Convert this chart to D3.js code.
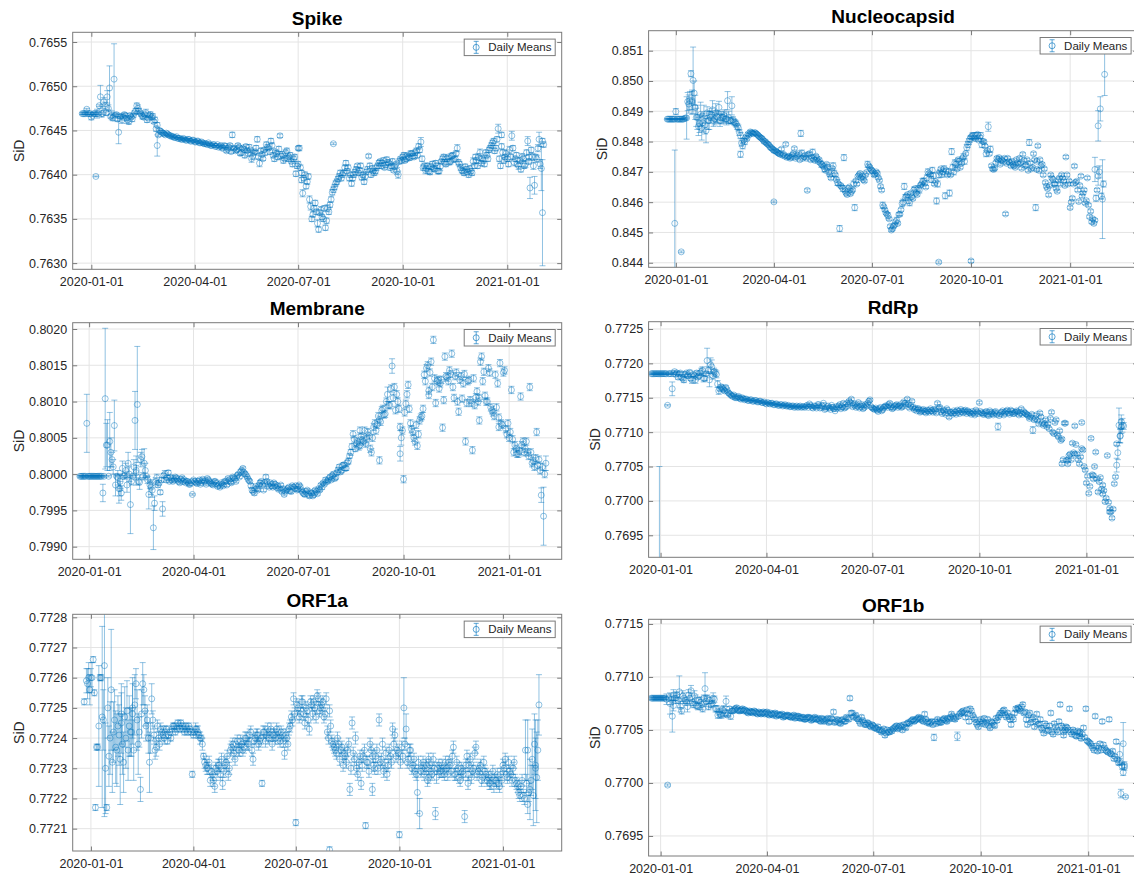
<!DOCTYPE html>
<html><head><meta charset="utf-8">
<script src="https://cdn.jsdelivr.net/npm/d3@7"></script>
<style>
body{margin:0;background:#fff;}
svg text{font-family:"Liberation Sans",Arial,Helvetica,sans-serif;}
</style></head>
<body><svg id="chart" width="1134" height="877"></svg>
<script>
// ---------------- DATA ----------------
const xTickDates = ["2020-01-01","2020-04-01","2020-07-01","2020-10-01","2021-01-01"];
// daily means: "Even" arrays start 2019-12-24, "Odd" arrays start 2019-12-25, each stepping 2 days
const firstEvenDate = "2019-12-24";
const firstOddDate = "2019-12-25";
const stepDays = 2;

const spikeMeansEven = [
0.76469,0.76469,0.76474,0.76469,0.76465,0.76469,0.76469,0.76469,0.76488,0.76469,
0.76478,0.76488,0.76498,0.76467,0.76508,0.76468,0.76448,0.76466,0.76465,0.76467,
0.76462,0.76467,0.76463,0.76470,0.76478,0.76472,0.76468,0.76465,0.76470,0.76464,
0.76468,0.76466,0.76462,0.76456,0.76450,0.76448,0.76446,0.76447,0.76445,0.76444,
0.76443,0.76442,0.76441,0.76441,0.76440,0.76440,0.76439,0.76440,0.76438,0.76439,
0.76437,0.76438,0.76436,0.76436,0.76435,0.76434,0.76434,0.76433,0.76434,0.76432,
0.76431,0.76433,0.76430,0.76432,0.76429,0.76433,0.76445,0.76430,0.76428,0.76431,
0.76425,0.76429,0.76432,0.76424,0.76428,0.76421,0.76426,0.76440,0.76413,0.76423,
0.76428,0.76434,0.76430,0.76438,0.76422,0.76426,0.76420,0.76444,0.76423,0.76418,
0.76427,0.76420,0.76415,0.76418,0.76401,0.76412,0.76408,0.76379,0.76400,0.76392,
0.76372,0.76350,0.76362,0.76358,0.76338,0.76360,0.76350,0.76340,0.76362,0.76366,
0.76380,0.76386,0.76392,0.76398,0.76396,0.76402,0.76413,0.76408,0.76400,0.76396,
0.76403,0.76410,0.76405,0.76397,0.76392,0.76403,0.76421,0.76400,0.76404,0.76404,
0.76410,0.76415,0.76413,0.76408,0.76417,0.76413,0.76410,0.76405,0.76412,0.76400,
0.76418,0.76420,0.76416,0.76422,0.76419,0.76424,0.76420,0.76427,0.76432,0.76437,
0.76408,0.76405,0.76410,0.76403,0.76412,0.76406,0.76410,0.76404,0.76415,0.76420,
0.76412,0.76420,0.76415,0.76422,0.76418,0.76430,0.76412,0.76405,0.76402,0.76406,
0.76400,0.76404,0.76415,0.76420,0.76410,0.76425,0.76418,0.76412,0.76422,0.76428,
0.76433,0.76438,0.76430,0.76452,0.76410,0.76425,0.76420,0.76418,0.76428,0.76444,
0.76414,0.76422,0.76410,0.76406,0.76418,0.76412,0.76438,0.76385,0.76420,0.76388,
0.76418,0.76440,0.76407,0.76434];
const spikeErrsEven = [
1e-5,1e-5,1e-5,1e-5,3e-5,1e-5,1e-5,1e-5,1.3e-4,1e-5,
4e-5,7e-5,2.5e-4,5e-5,4e-4,2e-5,1.3e-4,2e-5,2e-5,2e-5,
4e-5,2e-5,3e-5,2e-5,3e-5,3e-5,2e-5,2e-5,4e-5,2e-5,
3e-5,3e-5,3e-5,3e-5,2e-5,2e-5,2e-5,1e-5,1e-5,1e-5,
1e-5,1e-5,1e-5,1e-5,1e-5,1e-5,1e-5,1e-5,1e-5,1e-5,
1e-5,1e-5,1e-5,1e-5,1e-5,1e-5,1e-5,1e-5,1e-5,1e-5,
1e-5,1e-5,1e-5,1e-5,2e-5,2e-5,3e-5,2e-5,2e-5,2e-5,
3e-5,2e-5,2e-5,3e-5,2e-5,4e-5,2e-5,3e-5,4e-5,2e-5,
2e-5,3e-5,2e-5,3e-5,3e-5,2e-5,3e-5,2e-5,3e-5,2e-5,
3e-5,2e-5,2e-5,3e-5,3e-5,3e-5,3e-5,4e-5,3e-5,3e-5,
4e-5,3e-5,3e-5,3e-5,3e-5,4e-5,3e-5,3e-5,4e-5,3e-5,
3e-5,3e-5,3e-5,3e-5,3e-5,3e-5,3e-5,3e-5,3e-5,3e-5,
3e-5,2e-5,3e-5,3e-5,3e-5,3e-5,2e-5,3e-5,2e-5,3e-5,
3e-5,2e-5,3e-5,2e-5,3e-5,2e-5,3e-5,2e-5,2e-5,4e-5,
2e-5,3e-5,2e-5,2e-5,3e-5,2e-5,2e-5,3e-5,3e-5,5e-5,
3e-5,4e-5,3e-5,3e-5,3e-5,2e-5,3e-5,3e-5,2e-5,3e-5,
3e-5,2e-5,3e-5,3e-5,3e-5,4e-5,3e-5,3e-5,3e-5,3e-5,
3e-5,3e-5,4e-5,3e-5,3e-5,4e-5,3e-5,3e-5,3e-5,3e-5,
3e-5,3e-5,3e-5,5e-5,3e-5,3e-5,3e-5,3e-5,4e-5,5e-5,
4e-5,3e-5,4e-5,3e-5,3e-5,4e-5,5e-5,1.2e-4,4e-5,1e-4,
4e-5,8e-5,2.5e-4,3e-5];
const spikeMeansOdd = [
0.76469,0.76469,0.76469,0.76469,0.76467,0.76469,0.76469,0.76478,0.76469,0.76482,
0.76470,0.76475,0.76466,0.76464,0.76467,0.76463,0.76466,0.76462,0.76468,0.76464,
0.76460,0.76465,0.76467,0.76472,0.76475,0.76470,0.76466,0.76468,0.76462,0.76467,
0.76465,0.76460,0.76452,0.76445,0.76449,0.76447,0.76445,0.76446,0.76444,0.76443,
0.76442,0.76443,0.76441,0.76440,0.76441,0.76439,0.76440,0.76438,0.76439,0.76437,
0.76438,0.76436,0.76437,0.76435,0.76435,0.76436,0.76433,0.76434,0.76432,0.76434,
0.76432,0.76430,0.76433,0.76427,0.76431,0.76426,0.76430,0.76427,0.76433,0.76424,
0.76430,0.76422,0.76427,0.76431,0.76418,0.76425,0.76430,0.76420,0.76427,0.76418,
0.76425,0.76431,0.76426,0.76433,0.76418,0.76424,0.76429,0.76421,0.76416,0.76425,
0.76418,0.76422,0.76412,0.76420,0.76410,0.76430,0.76402,0.76396,0.76387,0.76398,
0.76364,0.76355,0.76368,0.76345,0.76357,0.76352,0.76362,0.76348,0.76358,0.76372,
0.76383,0.76390,0.76395,0.76402,0.76400,0.76408,0.76404,0.76396,0.76390,0.76400,
0.76406,0.76402,0.76410,0.76400,0.76398,0.76406,0.76410,0.76407,0.76402,0.76408,
0.76413,0.76410,0.76416,0.76411,0.76414,0.76408,0.76415,0.76409,0.76404,0.76415,
0.76416,0.76422,0.76418,0.76420,0.76424,0.76421,0.76425,0.76422,0.76428,0.76418,
0.76410,0.76407,0.76404,0.76409,0.76407,0.76413,0.76404,0.76409,0.76418,0.76414,
0.76418,0.76414,0.76421,0.76417,0.76424,0.76414,0.76408,0.76404,0.76409,0.76403,
0.76407,0.76402,0.76410,0.76416,0.76420,0.76413,0.76416,0.76425,0.76418,0.76430,
0.76436,0.76427,0.76440,0.76418,0.76432,0.76416,0.76424,0.76412,0.76420,0.76430,
0.76418,0.76412,0.76416,0.76420,0.76410,0.76425,0.76415,0.76428,0.76410,0.76420,
0.76430,0.76412,0.76438];
const spikeErrsOdd = [
1e-5,1e-5,1e-5,1e-5,1e-5,1e-5,5e-5,1e-5,4e-5,5e-5,
3e-5,4e-5,2e-5,3e-5,2e-5,3e-5,2e-5,4e-5,2e-5,3e-5,
3e-5,2e-5,2e-5,3e-5,4e-5,2e-5,3e-5,2e-5,3e-5,2e-5,
2e-5,2e-5,3e-5,2e-5,1e-5,1e-5,1e-5,1e-5,1e-5,1e-5,
1e-5,1e-5,1e-5,1e-5,1e-5,1e-5,1e-5,1e-5,1e-5,1e-5,
1e-5,1e-5,1e-5,1e-5,1e-5,1e-5,1e-5,1e-5,1e-5,1e-5,
1e-5,1e-5,2e-5,2e-5,2e-5,2e-5,2e-5,2e-5,2e-5,2e-5,
2e-5,3e-5,2e-5,3e-5,4e-5,2e-5,3e-5,2e-5,3e-5,2e-5,
3e-5,3e-5,3e-5,3e-5,3e-5,3e-5,3e-5,3e-5,3e-5,3e-5,
3e-5,3e-5,3e-5,3e-5,3e-5,3e-5,3e-5,3e-5,3e-5,3e-5,
4e-5,3e-5,3e-5,4e-5,3e-5,3e-5,3e-5,3e-5,3e-5,3e-5,
3e-5,3e-5,3e-5,3e-5,3e-5,3e-5,3e-5,3e-5,3e-5,3e-5,
3e-5,3e-5,3e-5,3e-5,4e-5,3e-5,3e-5,3e-5,3e-5,3e-5,
3e-5,3e-5,3e-5,3e-5,3e-5,3e-5,3e-5,3e-5,4e-5,3e-5,
3e-5,3e-5,3e-5,3e-5,3e-5,3e-5,3e-5,3e-5,3e-5,3e-5,
3e-5,3e-5,3e-5,3e-5,3e-5,3e-5,3e-5,4e-5,3e-5,3e-5,
3e-5,3e-5,3e-5,3e-5,3e-5,3e-5,3e-5,3e-5,3e-5,3e-5,
3e-5,3e-5,3e-5,3e-5,4e-5,3e-5,3e-5,3e-5,3e-5,3e-5,
3e-5,3e-5,3e-5,3e-5,3e-5,3e-5,4e-5,3e-5,3e-5,3e-5,
3e-5,3e-5,3e-5,4e-5,3e-5,3e-5,3e-5,3e-5,4e-5,3e-5,
4e-5,5e-5,3e-5];
const spikeExtraDates = ["2020-01-05","2020-02-28","2020-07-01","2020-07-04","2020-08-01","2020-12-27","2021-01-20","2021-02-01"];
const spikeExtraMeans = [0.76398,0.76433,0.76430,0.76394,0.76435,0.76445,0.76420,0.76357];
const spikeExtraErrs  = [5e-6,1.2e-4,2e-5,3e-5,1e-5,3e-5,3e-5,6e-4];
const spikeYTicks = [0.7630,0.7635,0.7640,0.7645,0.7650,0.7655];

const nucleoMeansEven = [
0.84874,0.84874,0.84874,0.84874,0.84899,0.84874,0.84874,0.84874,0.84876,0.84878,
0.84924,0.85024,0.85002,0.84913,0.84880,0.84860,0.84845,0.84890,0.84836,0.84870,
0.84880,0.84905,0.84875,0.84882,0.84913,0.84878,0.84880,0.84874,0.84935,0.84870,
0.84918,0.84865,0.84858,0.84845,0.84820,0.84786,0.84800,0.84810,0.84822,0.84830,
0.84826,0.84828,0.84822,0.84815,0.84810,0.84800,0.84795,0.84790,0.84780,0.84775,
0.84770,0.84765,0.84760,0.84775,0.84758,0.84791,0.84750,0.84745,0.84755,0.84777,
0.84750,0.84760,0.84827,0.84745,0.84755,0.84639,0.84760,0.84748,0.84742,0.84752,
0.84735,0.84730,0.84722,0.84710,0.84725,0.84700,0.84680,0.84720,0.84690,0.84665,
0.84513,0.84650,0.84747,0.84630,0.84645,0.84628,0.84640,0.84582,0.84660,0.84690,
0.84680,0.84675,0.84690,0.84725,0.84715,0.84705,0.84690,0.84700,0.84680,0.84652,
0.84590,0.84575,0.84560,0.84545,0.84508,0.84520,0.84536,0.84530,0.84560,0.84595,
0.84652,0.84620,0.84605,0.84630,0.84612,0.84645,0.84625,0.84640,0.84660,0.84670,
0.84650,0.84700,0.84690,0.84705,0.84660,0.84604,0.84690,0.84710,0.84700,0.84621,
0.84690,0.84630,0.84767,0.84700,0.84725,0.84740,0.84715,0.84745,0.84735,0.84780,
0.84800,0.84815,0.84820,0.84810,0.84824,0.84815,0.84790,0.84800,0.84760,0.84849,
0.84775,0.84710,0.84712,0.84745,0.84747,0.84740,0.84733,0.84561,0.84745,0.84730,
0.84735,0.84720,0.84740,0.84725,0.84730,0.84758,0.84720,0.84740,0.84797,0.84710,
0.84760,0.84582,0.84786,0.84740,0.84725,0.84710,0.84652,0.84624,0.84690,0.84675,
0.84660,0.84636,0.84680,0.84690,0.84670,0.84749,0.84660,0.84582,0.84613,0.84719,
0.84669,0.84602,0.84686,0.84630,0.84597,0.84680,0.84552,0.84535,0.84530,0.84613,
0.84686,0.84908,0.84610,0.85022];
const nucleoErrsEven = [
2e-5,2e-5,2e-5,2e-5,1e-4,2e-5,2e-5,2e-5,3e-5,7e-4,
3e-4,1e-4,1.1e-3,4e-4,4e-4,3e-4,4e-4,3e-4,4e-4,3e-4,
2e-4,3e-4,2e-4,2e-4,2e-4,2e-4,2e-4,1e-4,3e-4,1e-4,
3e-4,1e-4,1e-4,1e-4,1e-4,1e-4,1e-4,5e-5,5e-5,5e-5,
5e-5,5e-5,5e-5,5e-5,5e-5,5e-5,5e-5,5e-5,5e-5,5e-5,
5e-5,5e-5,5e-5,5e-5,5e-5,5e-5,5e-5,5e-5,5e-5,5e-5,
5e-5,5e-5,1e-4,5e-5,5e-5,5e-5,5e-5,5e-5,5e-5,5e-5,
5e-5,5e-5,5e-5,1e-4,5e-5,1e-4,5e-5,1e-4,5e-5,1e-4,
1e-4,5e-5,1e-4,5e-5,5e-5,5e-5,5e-5,1e-4,5e-5,5e-5,
5e-5,5e-5,5e-5,1e-4,5e-5,5e-5,5e-5,5e-5,5e-5,5e-5,
1e-4,5e-5,5e-5,5e-5,5e-5,5e-5,5e-5,5e-5,5e-5,1e-4,
1e-4,5e-5,1e-4,5e-5,5e-5,5e-5,5e-5,1e-4,5e-5,1e-4,
5e-5,1e-4,5e-5,1e-4,5e-5,1e-4,1e-4,5e-5,1e-4,1e-4,
5e-5,1e-4,1e-4,1e-4,1e-4,5e-5,5e-5,5e-5,1e-4,1e-4,
1e-4,5e-5,1e-4,5e-5,5e-5,5e-5,1e-4,5e-5,1e-4,1.5e-4,
1e-4,5e-5,5e-5,5e-5,5e-5,5e-5,5e-5,5e-5,5e-5,5e-5,
5e-5,5e-5,5e-5,5e-5,5e-5,5e-5,5e-5,5e-5,1e-4,5e-5,
5e-5,1e-4,5e-5,5e-5,5e-5,5e-5,5e-5,5e-5,5e-5,5e-5,
5e-5,5e-5,5e-5,5e-5,5e-5,5e-5,5e-5,5e-5,5e-5,5e-5,
5e-5,5e-5,5e-5,5e-5,5e-5,5e-5,5e-5,5e-5,5e-5,1e-4,
3e-4,4e-4,1.3e-3,7e-4];
const nucleoMeansOdd = [
0.84874,0.84874,0.84874,0.84874,0.84874,0.84874,0.84874,0.84874,0.84878,0.84932,
0.84935,0.84930,0.84960,0.84880,0.84850,0.84890,0.84862,0.84855,0.84895,0.84870,
0.84890,0.84870,0.84895,0.84880,0.84870,0.84880,0.84885,0.84875,0.84880,0.84868,
0.84872,0.84862,0.84850,0.84830,0.84795,0.84805,0.84815,0.84825,0.84832,0.84828,
0.84830,0.84825,0.84818,0.84812,0.84805,0.84800,0.84792,0.84785,0.84778,0.84770,
0.84768,0.84762,0.84758,0.84755,0.84752,0.84748,0.84752,0.84748,0.84760,0.84745,
0.84755,0.84740,0.84762,0.84750,0.84745,0.84758,0.84740,0.84765,0.84738,0.84745,
0.84740,0.84725,0.84718,0.84705,0.84715,0.84690,0.84712,0.84695,0.84675,0.84660,
0.84655,0.84645,0.84638,0.84625,0.84650,0.84635,0.84660,0.84670,0.84685,0.84695,
0.84685,0.84670,0.84698,0.84720,0.84708,0.84700,0.84692,0.84695,0.84672,0.84640,
0.84585,0.84565,0.84555,0.84520,0.84512,0.84525,0.84540,0.84560,0.84575,0.84600,
0.84615,0.84625,0.84598,0.84618,0.84640,0.84630,0.84645,0.84655,0.84668,0.84662,
0.84680,0.84695,0.84675,0.84688,0.84668,0.84660,0.84700,0.84692,0.84710,0.84705,
0.84700,0.84690,0.84715,0.84730,0.84710,0.84735,0.84728,0.84750,0.84760,0.84790,
0.84808,0.84818,0.84812,0.84820,0.84805,0.84820,0.84800,0.84785,0.84770,0.84760,
0.84720,0.84708,0.84730,0.84740,0.84725,0.84738,0.84745,0.84728,0.84735,0.84720,
0.84725,0.84715,0.84730,0.84745,0.84712,0.84738,0.84722,0.84705,0.84730,0.84715,
0.84740,0.84735,0.84705,0.84720,0.84690,0.84665,0.84645,0.84655,0.84680,0.84660,
0.84645,0.84672,0.84660,0.84680,0.84655,0.84690,0.84670,0.84600,0.84660,0.84665,
0.84640,0.84655,0.84620,0.84640,0.84605,0.84590,0.84570,0.84545,0.84540,0.84640,
0.84700,0.84620,0.84660];
const nucleoErrsOdd = [
2e-5,2e-5,2e-5,2e-5,2e-5,2e-5,2e-5,2e-5,3e-5,3e-4,
3e-4,4e-4,4e-4,3e-4,3e-4,4e-4,3e-4,3e-4,2e-4,3e-4,
2e-4,2e-4,3e-4,2e-4,2e-4,1e-4,2e-4,2e-4,2e-4,1e-4,
1e-4,1e-4,1e-4,1e-4,1e-4,5e-5,5e-5,5e-5,5e-5,5e-5,
5e-5,5e-5,5e-5,5e-5,5e-5,5e-5,5e-5,5e-5,5e-5,5e-5,
5e-5,5e-5,5e-5,5e-5,5e-5,5e-5,5e-5,5e-5,5e-5,5e-5,
5e-5,5e-5,1e-4,5e-5,5e-5,5e-5,5e-5,1e-4,5e-5,5e-5,
5e-5,1e-4,5e-5,5e-5,1e-4,5e-5,5e-5,1e-4,5e-5,5e-5,
5e-5,1e-4,5e-5,5e-5,5e-5,5e-5,1e-4,5e-5,5e-5,5e-5,
5e-5,5e-5,5e-5,5e-5,5e-5,5e-5,5e-5,5e-5,5e-5,5e-5,
5e-5,5e-5,1e-4,5e-5,5e-5,5e-5,1e-4,5e-5,5e-5,1e-4,
1e-4,5e-5,1e-4,5e-5,1e-4,5e-5,1e-4,5e-5,1e-4,5e-5,
1e-4,5e-5,1e-4,1e-4,5e-5,1e-4,5e-5,1e-4,1e-4,5e-5,
1e-4,5e-5,1e-4,1e-4,5e-5,1e-4,5e-5,1e-4,5e-5,1e-4,
1e-4,1e-4,5e-5,1e-4,5e-5,1e-4,5e-5,5e-5,5e-5,5e-5,
5e-5,5e-5,5e-5,5e-5,5e-5,5e-5,5e-5,5e-5,5e-5,5e-5,
5e-5,5e-5,5e-5,5e-5,5e-5,5e-5,5e-5,5e-5,5e-5,5e-5,
5e-5,5e-5,5e-5,5e-5,5e-5,5e-5,5e-5,5e-5,5e-5,5e-5,
5e-5,5e-5,5e-5,5e-5,5e-5,5e-5,5e-5,5e-5,5e-5,5e-5,
5e-5,5e-5,5e-5,5e-5,5e-5,5e-5,5e-5,5e-5,5e-5,5e-5,
2e-4,1e-4,1e-4];
const nucleoExtraDates = ["2019-12-31","2020-01-06","2020-01-16","2020-03-01","2020-04-01","2020-09-01","2020-10-01","2020-12-01","2021-01-24","2021-01-27"];
const nucleoExtraMeans = [0.84530,0.84436,0.84935,0.84758,0.84601,0.84402,0.84406,0.84708,0.84708,0.84852];
const nucleoExtraErrs  = [2.42e-3,3e-5,3e-4,1e-4,3e-5,4e-5,5e-5,5e-5,4e-4,5e-4];
const nucleoYTicks = [0.844,0.845,0.846,0.847,0.848,0.849,0.850,0.851];

const membraneMeansEven = [
0.79997,0.79997,0.79997,0.80070,0.79997,0.79997,0.79997,0.79997,0.79997,0.79997,
0.79974,0.80104,0.80040,0.80045,0.80020,0.80067,0.79997,0.79980,0.79974,0.79997,
0.80005,0.80015,0.79958,0.79997,0.80074,0.80096,0.79989,0.80024,0.80015,0.79997,
0.79972,0.79982,0.79926,0.79990,0.79985,0.79975,0.79952,0.80000,0.79995,0.79990,
0.79993,0.79992,0.79995,0.79990,0.79993,0.79990,0.79988,0.79990,0.79986,0.79972,
0.79990,0.79987,0.79992,0.79989,0.79990,0.79986,0.79992,0.79988,0.79985,0.79990,
0.79983,0.79982,0.79986,0.79990,0.79985,0.79992,0.79988,0.79995,0.79990,0.80000,
0.80003,0.80008,0.80000,0.79995,0.79990,0.79978,0.79974,0.79980,0.79985,0.79990,
0.79978,0.79996,0.79985,0.79988,0.79982,0.79986,0.79984,0.79980,0.79976,0.79972,
0.79978,0.79982,0.79976,0.79982,0.79984,0.79979,0.79982,0.79975,0.79972,0.79978,
0.79970,0.79974,0.79972,0.79976,0.79980,0.79985,0.79988,0.79992,0.79990,0.79996,
0.79998,0.79994,0.80002,0.80010,0.80005,0.80013,0.80008,0.80018,0.80030,0.80055,
0.80035,0.80045,0.80040,0.80047,0.80060,0.80048,0.80053,0.80030,0.80065,0.80060,
0.80080,0.80072,0.80090,0.80083,0.80110,0.80095,0.80149,0.80120,0.80110,0.80090,
0.80050,0.79993,0.80097,0.80123,0.80070,0.80058,0.80045,0.80039,0.80074,0.80080,
0.80137,0.80146,0.80109,0.80155,0.80185,0.80098,0.80130,0.80125,0.80064,0.80162,
0.80133,0.80143,0.80166,0.80105,0.80140,0.80086,0.80135,0.80125,0.80045,0.80128,
0.80102,0.80033,0.80095,0.80114,0.80074,0.80162,0.80141,0.80100,0.80146,0.80092,
0.80085,0.80137,0.80125,0.80153,0.80068,0.80143,0.80055,0.80050,0.80116,0.80030,
0.80035,0.80028,0.80107,0.80045,0.80035,0.80030,0.80120,0.80015,0.80010,0.80058,
0.80020,0.79971,0.79942,0.80015];
const membraneErrsEven = [
1e-5,1e-5,1e-5,4e-4,1e-5,1e-5,1e-5,1e-5,1e-5,1e-5,
1.2e-4,9.7e-4,3.5e-4,4e-4,1e-4,3.5e-4,1e-5,2e-4,1e-4,1e-5,
1e-4,1.5e-4,4e-4,1e-5,4e-4,8e-4,1e-4,1e-4,2e-4,1e-5,
2e-4,1e-4,3e-4,5e-5,3e-5,3e-5,1e-4,5e-5,3e-5,2e-5,
2e-5,2e-5,2e-5,2e-5,2e-5,2e-5,2e-5,2e-5,2e-5,1e-5,
2e-5,2e-5,2e-5,2e-5,2e-5,2e-5,2e-5,2e-5,2e-5,2e-5,
2e-5,2e-5,2e-5,2e-5,2e-5,2e-5,2e-5,2e-5,2e-5,2e-5,
3e-5,2e-5,3e-5,2e-5,2e-5,3e-5,3e-5,3e-5,2e-5,2e-5,
2e-5,3e-5,2e-5,2e-5,2e-5,2e-5,2e-5,2e-5,2e-5,2e-5,
2e-5,2e-5,3e-5,2e-5,2e-5,2e-5,3e-5,2e-5,3e-5,2e-5,
3e-5,3e-5,2e-5,2e-5,2e-5,2e-5,2e-5,3e-5,2e-5,3e-5,
3e-5,3e-5,3e-5,3e-5,3e-5,3e-5,3e-5,4e-5,4e-5,5e-5,
4e-5,5e-5,5e-5,5e-5,5e-5,5e-5,5e-5,5e-5,5e-5,5e-5,
5e-5,5e-5,5e-5,5e-5,1e-4,5e-5,1e-4,5e-5,5e-5,5e-5,
1e-4,5e-5,5e-5,5e-5,5e-5,5e-5,5e-5,5e-5,5e-5,5e-5,
5e-5,5e-5,5e-5,5e-5,5e-5,5e-5,5e-5,5e-5,5e-5,5e-5,
5e-5,5e-5,5e-5,5e-5,5e-5,5e-5,5e-5,5e-5,5e-5,5e-5,
5e-5,5e-5,5e-5,5e-5,5e-5,5e-5,5e-5,5e-5,5e-5,5e-5,
5e-5,5e-5,5e-5,5e-5,5e-5,5e-5,5e-5,5e-5,5e-5,5e-5,
5e-5,5e-5,5e-5,5e-5,5e-5,5e-5,5e-5,5e-5,5e-5,5e-5,
5e-5,1e-4,4e-4,1e-4];
const membraneMeansOdd = [
0.79997,0.79997,0.79997,0.79997,0.79997,0.79997,0.79997,0.79997,0.79997,0.79997,
0.79997,0.80040,0.79997,0.80030,0.80010,0.79985,0.79995,0.79990,0.80008,0.79998,
0.79985,0.80000,0.79990,0.80010,0.80002,0.79990,0.80020,0.79997,0.80005,0.79992,
0.79985,0.79978,0.79960,0.79995,0.79988,0.79992,0.79998,0.79992,0.80002,0.79996,
0.79990,0.79996,0.79992,0.79988,0.79995,0.79992,0.79990,0.79986,0.79989,0.79992,
0.79988,0.79990,0.79986,0.79993,0.79990,0.79994,0.79989,0.79986,0.79990,0.79987,
0.79985,0.79988,0.79984,0.79990,0.79994,0.79989,0.79996,0.79993,0.79998,0.79996,
0.80005,0.80002,0.79998,0.79992,0.79984,0.79976,0.79983,0.79978,0.79988,0.79985,
0.79988,0.79990,0.79982,0.79984,0.79988,0.79982,0.79979,0.79985,0.79980,0.79976,
0.79980,0.79977,0.79984,0.79980,0.79978,0.79985,0.79978,0.79973,0.79976,0.79972,
0.79975,0.79970,0.79978,0.79973,0.79978,0.79982,0.79986,0.79990,0.79994,0.79992,
0.80000,0.79996,0.80006,0.80003,0.80012,0.80008,0.80016,0.80025,0.80038,0.80048,
0.80042,0.80038,0.80052,0.80045,0.80042,0.80058,0.80035,0.80050,0.80070,0.80068,
0.80075,0.80088,0.80082,0.80100,0.80095,0.80118,0.80105,0.80088,0.80100,0.80065,
0.80060,0.80085,0.80110,0.80090,0.80062,0.80050,0.80068,0.80055,0.80078,0.80090,
0.80128,0.80150,0.80140,0.80120,0.80132,0.80128,0.80118,0.80130,0.80102,0.80135,
0.80128,0.80138,0.80120,0.80135,0.80100,0.80130,0.80104,0.80138,0.80098,0.80130,
0.80098,0.80132,0.80106,0.80100,0.80155,0.80128,0.80108,0.80100,0.80140,0.80088,
0.80080,0.80092,0.80078,0.80070,0.80140,0.80062,0.80070,0.80058,0.80048,0.80040,
0.80028,0.80032,0.80040,0.80030,0.80045,0.80025,0.80030,0.80018,0.80022,0.80012,
0.80005,0.80010,0.80000];
const membraneErrsOdd = [
1e-5,1e-5,1e-5,1e-5,1e-5,1e-5,1e-5,1e-5,1e-5,1e-5,
1e-5,3e-4,1e-5,2e-4,1e-4,1.5e-4,1e-4,1e-4,1e-4,5e-5,
1e-4,1e-4,5e-5,1e-4,1e-4,5e-5,1e-4,5e-5,1e-4,5e-5,
5e-5,1e-4,1e-4,5e-5,3e-5,3e-5,3e-5,3e-5,3e-5,2e-5,
2e-5,2e-5,2e-5,2e-5,2e-5,2e-5,2e-5,2e-5,2e-5,2e-5,
2e-5,2e-5,2e-5,2e-5,2e-5,2e-5,2e-5,2e-5,2e-5,2e-5,
2e-5,2e-5,2e-5,2e-5,2e-5,2e-5,2e-5,2e-5,2e-5,2e-5,
3e-5,2e-5,2e-5,2e-5,3e-5,2e-5,2e-5,2e-5,3e-5,2e-5,
2e-5,2e-5,2e-5,2e-5,2e-5,2e-5,2e-5,2e-5,2e-5,2e-5,
2e-5,2e-5,2e-5,3e-5,2e-5,2e-5,2e-5,2e-5,2e-5,2e-5,
2e-5,2e-5,2e-5,2e-5,2e-5,3e-5,2e-5,2e-5,2e-5,2e-5,
3e-5,3e-5,3e-5,3e-5,3e-5,3e-5,3e-5,3e-5,4e-5,5e-5,
5e-5,5e-5,5e-5,5e-5,5e-5,5e-5,5e-5,5e-5,5e-5,5e-5,
5e-5,5e-5,5e-5,5e-5,5e-5,5e-5,5e-5,5e-5,5e-5,5e-5,
5e-5,5e-5,5e-5,5e-5,5e-5,5e-5,5e-5,5e-5,5e-5,5e-5,
5e-5,5e-5,5e-5,5e-5,5e-5,5e-5,5e-5,5e-5,5e-5,5e-5,
5e-5,5e-5,5e-5,5e-5,5e-5,5e-5,5e-5,5e-5,5e-5,5e-5,
5e-5,5e-5,5e-5,5e-5,5e-5,5e-5,5e-5,5e-5,5e-5,5e-5,
5e-5,5e-5,5e-5,5e-5,5e-5,5e-5,5e-5,5e-5,5e-5,5e-5,
5e-5,5e-5,5e-5,5e-5,5e-5,5e-5,5e-5,5e-5,5e-5,5e-5,
5e-5,5e-5,5e-5];
const membraneExtraDates = ["2020-01-28","2020-02-11","2020-08-24","2020-09-10","2020-09-28","2020-10-23","2020-12-06","2020-12-23"];
const membraneExtraMeans = [0.79980,0.80005,0.80060,0.80019,0.80028,0.80115,0.80105,0.80065];
const membraneExtraErrs  = [1e-4,2e-4,5e-5,5e-5,1e-4,5e-5,5e-5,5e-5];
const membraneYTicks = [0.7990,0.7995,0.8000,0.8005,0.8010,0.8015,0.8020];

const rdrpMeansEven = [
0.77185,0.77185,0.77185,0.77185,0.77185,0.77185,0.77185,0.77139,0.77185,0.77163,
0.77188,0.77186,0.77185,0.77180,0.77176,0.77186,0.77182,0.77178,0.77184,0.77176,
0.77180,0.77186,0.77190,0.77178,0.77204,0.77176,0.77195,0.77188,0.77184,0.77160,
0.77166,0.77162,0.77165,0.77158,0.77155,0.77152,0.77150,0.77151,0.77149,0.77150,
0.77147,0.77148,0.77146,0.77147,0.77145,0.77146,0.77144,0.77145,0.77143,0.77142,
0.77143,0.77141,0.77142,0.77140,0.77141,0.77139,0.77140,0.77139,0.77138,0.77139,
0.77137,0.77138,0.77137,0.77136,0.77138,0.77137,0.77136,0.77139,0.77141,0.77136,
0.77138,0.77135,0.77140,0.77136,0.77142,0.77134,0.77138,0.77133,0.77136,0.77131,
0.77135,0.77140,0.77137,0.77135,0.77142,0.77145,0.77148,0.77140,0.77136,0.77143,
0.77138,0.77134,0.77140,0.77142,0.77147,0.77135,0.77133,0.77132,0.77134,0.77131,
0.77136,0.77138,0.77140,0.77137,0.77135,0.77139,0.77136,0.77140,0.77137,0.77142,
0.77148,0.77135,0.77145,0.77133,0.77131,0.77134,0.77130,0.77133,0.77128,0.77131,
0.77134,0.77129,0.77132,0.77142,0.77136,0.77127,0.77130,0.77134,0.77122,0.77128,
0.77131,0.77126,0.77130,0.77133,0.77128,0.77132,0.77131,0.77128,0.77130,0.77125,
0.77129,0.77143,0.77128,0.77126,0.77130,0.77124,0.77128,0.77125,0.77130,0.77108,
0.77127,0.77131,0.77128,0.77132,0.77126,0.77130,0.77127,0.77131,0.77125,0.77134,
0.77130,0.77127,0.77124,0.77122,0.77103,0.77120,0.77117,0.77128,0.77114,0.77112,
0.77108,0.77105,0.77129,0.77098,0.77118,0.77093,0.77088,0.77060,0.77113,0.77054,
0.77068,0.77084,0.77109,0.77068,0.77054,0.77114,0.77050,0.77026,0.77011,0.77091,
0.77037,0.77071,0.77013,0.77034,0.77023,0.76999,0.77066,0.76989,0.76975,0.77025,
0.77052,0.77110,0.77108,0.77109];
const rdrpErrsEven = [
1e-5,1e-5,1e-5,1e-5,1e-5,1e-5,1e-5,1e-5,1e-5,1e-4,
2e-5,2e-5,2e-5,3e-5,4e-5,2e-5,3e-5,3e-5,3e-5,5e-5,
3e-5,3e-5,5e-5,3e-5,1.8e-4,1e-4,1e-4,5e-5,5e-5,5e-5,
3e-5,3e-5,3e-5,2e-5,2e-5,2e-5,2e-5,2e-5,2e-5,2e-5,
1e-5,1e-5,1e-5,1e-5,1e-5,1e-5,1e-5,1e-5,1e-5,1e-5,
1e-5,1e-5,1e-5,1e-5,1e-5,1e-5,1e-5,1e-5,1e-5,1e-5,
1e-5,1e-5,1e-5,1e-5,1e-5,1e-5,1e-5,1e-5,1e-5,1e-5,
1e-5,1e-5,1e-5,1e-5,1e-5,1e-5,1e-5,1e-5,1e-5,1e-5,
2e-5,2e-5,2e-5,2e-5,2e-5,2e-5,2e-5,2e-5,2e-5,2e-5,
2e-5,2e-5,2e-5,2e-5,2e-5,2e-5,2e-5,2e-5,2e-5,2e-5,
2e-5,2e-5,2e-5,2e-5,2e-5,2e-5,2e-5,2e-5,2e-5,2e-5,
2e-5,2e-5,2e-5,2e-5,2e-5,2e-5,2e-5,2e-5,2e-5,2e-5,
2e-5,2e-5,2e-5,2e-5,2e-5,2e-5,2e-5,2e-5,2e-5,2e-5,
2e-5,2e-5,2e-5,2e-5,2e-5,2e-5,2e-5,2e-5,2e-5,2e-5,
2e-5,2e-5,2e-5,2e-5,2e-5,2e-5,2e-5,2e-5,2e-5,5e-5,
2e-5,2e-5,2e-5,2e-5,2e-5,2e-5,2e-5,2e-5,2e-5,2e-5,
2e-5,2e-5,2e-5,2e-5,5e-5,2e-5,2e-5,2e-5,2e-5,2e-5,
2e-5,2e-5,2e-5,2e-5,2e-5,2e-5,2e-5,2e-5,2e-5,2e-5,
2e-5,2e-5,2e-5,2e-5,2e-5,2e-5,2e-5,2e-5,2e-5,2e-5,
2e-5,2e-5,2e-5,2e-5,2e-5,2e-5,2e-5,2e-5,2e-5,2e-5,
1e-4,2.5e-4,1e-4,5e-5];
const rdrpMeansOdd = [
0.77185,0.77185,0.77185,0.77185,0.77185,0.77185,0.77185,0.77185,0.77185,0.77185,
0.77184,0.77180,0.77186,0.77178,0.77184,0.77182,0.77187,0.77176,0.77182,0.77186,
0.77182,0.77188,0.77178,0.77185,0.77190,0.77198,0.77182,0.77186,0.77170,0.77163,
0.77164,0.77160,0.77162,0.77156,0.77153,0.77154,0.77150,0.77152,0.77148,0.77149,
0.77148,0.77146,0.77147,0.77145,0.77146,0.77144,0.77145,0.77143,0.77144,0.77141,
0.77142,0.77142,0.77140,0.77141,0.77139,0.77140,0.77138,0.77140,0.77138,0.77137,
0.77138,0.77136,0.77138,0.77137,0.77136,0.77137,0.77138,0.77136,0.77139,0.77135,
0.77137,0.77140,0.77135,0.77138,0.77133,0.77137,0.77135,0.77139,0.77134,0.77137,
0.77138,0.77134,0.77142,0.77136,0.77139,0.77143,0.77137,0.77141,0.77138,0.77135,
0.77140,0.77136,0.77138,0.77145,0.77137,0.77134,0.77135,0.77130,0.77136,0.77133,
0.77138,0.77136,0.77142,0.77134,0.77138,0.77140,0.77138,0.77136,0.77144,0.77139,
0.77141,0.77138,0.77136,0.77135,0.77134,0.77129,0.77132,0.77130,0.77132,0.77129,
0.77131,0.77133,0.77128,0.77135,0.77130,0.77132,0.77126,0.77131,0.77129,0.77126,
0.77129,0.77132,0.77127,0.77130,0.77131,0.77127,0.77129,0.77126,0.77128,0.77132,
0.77127,0.77130,0.77126,0.77129,0.77125,0.77131,0.77127,0.77129,0.77126,0.77124,
0.77129,0.77125,0.77130,0.77128,0.77132,0.77127,0.77129,0.77130,0.77128,0.77126,
0.77128,0.77125,0.77120,0.77126,0.77118,0.77125,0.77112,0.77122,0.77110,0.77118,
0.77112,0.77120,0.77100,0.77114,0.77096,0.77102,0.77090,0.77113,0.77059,0.77066,
0.77060,0.77070,0.77082,0.77060,0.77064,0.77074,0.77045,0.77036,0.77021,0.77038,
0.77050,0.77032,0.77028,0.77017,0.77015,0.77004,0.76998,0.76984,0.76988,0.77035,
0.77070,0.77095,0.77110];
const rdrpErrsOdd = [
1e-5,1e-5,1e-5,1e-5,1e-5,1e-5,1e-5,1e-5,1e-5,1e-5,
3e-5,3e-5,2e-5,3e-5,3e-5,2e-5,3e-5,5e-5,3e-5,3e-5,
3e-5,5e-5,5e-5,3e-5,5e-5,1e-4,5e-5,5e-5,5e-5,3e-5,
3e-5,3e-5,2e-5,2e-5,2e-5,2e-5,2e-5,2e-5,2e-5,2e-5,
1e-5,1e-5,1e-5,1e-5,1e-5,1e-5,1e-5,1e-5,1e-5,1e-5,
1e-5,1e-5,1e-5,1e-5,1e-5,1e-5,1e-5,1e-5,1e-5,1e-5,
1e-5,1e-5,1e-5,1e-5,1e-5,1e-5,1e-5,1e-5,1e-5,1e-5,
1e-5,1e-5,1e-5,1e-5,1e-5,1e-5,1e-5,1e-5,1e-5,1e-5,
2e-5,2e-5,2e-5,2e-5,2e-5,2e-5,2e-5,2e-5,2e-5,2e-5,
2e-5,2e-5,2e-5,2e-5,2e-5,2e-5,2e-5,2e-5,2e-5,2e-5,
2e-5,2e-5,2e-5,2e-5,2e-5,2e-5,2e-5,2e-5,2e-5,2e-5,
2e-5,2e-5,2e-5,2e-5,2e-5,2e-5,2e-5,2e-5,2e-5,2e-5,
2e-5,2e-5,2e-5,2e-5,2e-5,2e-5,2e-5,2e-5,2e-5,2e-5,
2e-5,2e-5,2e-5,2e-5,2e-5,2e-5,2e-5,2e-5,2e-5,2e-5,
2e-5,2e-5,2e-5,2e-5,2e-5,2e-5,2e-5,2e-5,2e-5,2e-5,
2e-5,2e-5,2e-5,2e-5,2e-5,2e-5,2e-5,2e-5,2e-5,2e-5,
2e-5,2e-5,2e-5,2e-5,2e-5,2e-5,2e-5,2e-5,2e-5,2e-5,
2e-5,2e-5,2e-5,2e-5,2e-5,2e-5,2e-5,2e-5,2e-5,2e-5,
2e-5,2e-5,2e-5,2e-5,2e-5,2e-5,2e-5,2e-5,2e-5,2e-5,
2e-5,2e-5,2e-5,2e-5,2e-5,2e-5,2e-5,2e-5,2e-5,2e-5,
1e-4,1e-4,1e-4];
const rdrpExtraDates = ["2019-12-31","2020-12-11","2020-12-16","2020-12-22","2020-12-28","2021-01-07","2021-01-15","2021-01-21","2021-01-27","2021-01-30","2021-01-31"];
const rdrpExtraMeans = [0.76850,0.77054,0.77059,0.77068,0.77076,0.77032,0.77010,0.76984,0.77083,0.77094,0.77115];
const rdrpExtraErrs  = [2.0e-3,2e-5,2e-5,2e-5,2e-5,2e-5,2e-5,2e-5,2e-5,1e-4,1e-4];
const rdrpYTicks = [0.7695,0.7700,0.7705,0.7710,0.7715,0.7720,0.7725];

const orf1aMeansEven = [
null,0.77252,0.77259,0.77260,0.77260,0.77266,0.77217,0.77237,0.77260,0.77247,
0.77264,0.77217,0.77234,0.77256,0.77242,0.77237,0.77244,0.77233,0.77238,0.77247,
0.77249,0.77244,0.77242,0.77236,0.77258,0.77238,0.77223,0.77258,0.77249,0.77246,
0.77232,0.77253,0.77241,0.77237,0.77240,0.77243,0.77241,0.77242,0.77239,0.77242,
0.77243,0.77244,0.77243,0.77244,0.77245,0.77243,0.77244,0.77242,0.77243,0.77228,
0.77242,0.77243,0.77241,0.77240,0.77234,0.77231,0.77230,0.77226,0.77228,0.77224,
0.77229,0.77231,0.77233,0.77229,0.77232,0.77228,0.77236,0.77238,0.77233,0.77239,
0.77236,0.77238,0.77237,0.77240,0.77238,0.77242,0.77233,0.77240,0.77241,0.77239,
0.77225,0.77242,0.77241,0.77240,0.77243,0.77241,0.77240,0.77242,0.77239,0.77241,
0.77235,0.77240,0.77243,0.77247,0.77253,0.77212,0.77250,0.77248,0.77252,0.77245,
0.77249,0.77243,0.77251,0.77252,0.77247,0.77253,0.77250,0.77252,0.77248,0.77242,
0.77249,0.77239,0.77237,0.77235,0.77238,0.77236,0.77231,0.77234,0.77236,0.77223,
0.77245,0.77233,0.77230,0.77232,0.77225,0.77234,0.77211,0.77232,0.77238,0.77234,
0.77230,0.77236,0.77246,0.77233,0.77229,0.77235,0.77231,0.77234,0.77243,0.77241,
0.77236,0.77208,0.77237,0.77250,0.77243,0.77233,0.77236,0.77231,0.77229,0.77222,
0.77215,0.77230,0.77228,0.77231,0.77227,0.77229,0.77233,0.77215,0.77230,0.77229,
0.77231,0.77228,0.77230,0.77232,0.77229,0.77237,0.77228,0.77230,0.77226,0.77229,
0.77214,0.77234,0.77231,0.77227,0.77230,0.77237,0.77229,0.77231,0.77227,0.77229,
0.77226,0.77225,0.77227,0.77224,0.77226,0.77225,0.77228,0.77231,0.77233,0.77227,
0.77229,0.77226,0.77232,0.77225,0.77222,0.77224,0.77221,0.77236,0.77218,0.77223,
0.77233,0.77238,0.77227,0.77251];
const orf1aErrsEven = [
1e-5,1e-5,4e-5,5e-5,3e-5,1e-5,1e-5,1e-5,1e-5,3e-4,
5e-4,1e-5,1e-4,2e-4,1e-4,1.2e-4,1e-4,1.5e-4,1e-4,1e-4,
1e-4,1e-4,8e-5,1e-4,5e-5,1e-4,4e-5,7e-5,5e-5,5e-5,
1e-4,5e-5,3e-5,3e-5,2e-5,2e-5,2e-5,2e-5,1e-5,1e-5,
1e-5,1e-5,1e-5,1e-5,1e-5,1e-5,1e-5,1e-5,1e-5,1e-5,
1e-5,1e-5,1e-5,1e-5,1e-5,2e-5,2e-5,2e-5,2e-5,2e-5,
2e-5,2e-5,2e-5,2e-5,2e-5,2e-5,2e-5,2e-5,2e-5,2e-5,
2e-5,2e-5,2e-5,2e-5,2e-5,2e-5,2e-5,2e-5,2e-5,2e-5,
1e-5,2e-5,2e-5,2e-5,2e-5,2e-5,2e-5,2e-5,2e-5,2e-5,
2e-5,2e-5,2e-5,2e-5,2e-5,1e-5,2e-5,2e-5,2e-5,2e-5,
2e-5,2e-5,2e-5,2e-5,2e-5,2e-5,2e-5,2e-5,2e-5,2e-5,
2e-5,2e-5,2e-5,2e-5,2e-5,2e-5,2e-5,2e-5,2e-5,2e-5,
2e-5,2e-5,2e-5,2e-5,2e-5,2e-5,1e-5,2e-5,2e-5,2e-5,
2e-5,2e-5,2e-5,2e-5,2e-5,2e-5,2e-5,2e-5,2e-5,2e-5,
2e-5,1e-5,2e-5,1e-4,5e-5,2e-5,2e-5,2e-5,2e-5,7e-5,
5e-5,2e-5,2e-5,2e-5,2e-5,2e-5,2e-5,2e-5,2e-5,2e-5,
2e-5,2e-5,2e-5,2e-5,2e-5,2e-5,2e-5,2e-5,2e-5,2e-5,
2e-5,2e-5,2e-5,2e-5,2e-5,2e-5,2e-5,2e-5,2e-5,2e-5,
2e-5,2e-5,2e-5,2e-5,2e-5,2e-5,2e-5,2e-5,2e-5,2e-5,
2e-5,2e-5,2e-5,2e-5,2e-5,2e-5,2e-5,1e-4,3e-5,1e-4,
1e-4,1e-4,1.5e-4,1e-4];
const orf1aMeansOdd = [
null,null,0.77258,0.77256,0.77260,0.77255,0.77237,0.77244,0.77260,0.77246,
0.77230,0.77250,0.77240,0.77232,0.77246,0.77236,0.77241,0.77248,0.77232,0.77240,
0.77236,0.77242,0.77248,0.77251,0.77246,0.77242,0.77248,0.77256,0.77244,0.77240,
0.77240,0.77246,0.77236,0.77244,0.77238,0.77242,0.77240,0.77243,0.77241,0.77240,
0.77244,0.77242,0.77245,0.77243,0.77244,0.77242,0.77243,0.77244,0.77242,0.77241,
0.77243,0.77242,0.77240,0.77238,0.77232,0.77230,0.77232,0.77229,0.77226,0.77230,
0.77231,0.77228,0.77225,0.77231,0.77234,0.77230,0.77237,0.77235,0.77238,0.77236,
0.77239,0.77236,0.77240,0.77238,0.77241,0.77236,0.77239,0.77241,0.77238,0.77240,
0.77242,0.77239,0.77243,0.77241,0.77238,0.77241,0.77243,0.77240,0.77242,0.77239,
0.77241,0.77238,0.77244,0.77246,0.77248,0.77251,0.77247,0.77252,0.77248,0.77250,
0.77246,0.77252,0.77248,0.77250,0.77254,0.77249,0.77251,0.77247,0.77253,0.77240,
0.77244,0.77238,0.77236,0.77240,0.77233,0.77237,0.77235,0.77232,0.77238,0.77230,
0.77235,0.77240,0.77228,0.77234,0.77231,0.77236,0.77232,0.77229,0.77236,0.77231,
0.77234,0.77230,0.77232,0.77238,0.77231,0.77228,0.77236,0.77232,0.77238,0.77234,
0.77235,0.77232,0.77234,0.77238,0.77232,0.77236,0.77230,0.77233,0.77228,0.77232,
0.77229,0.77232,0.77230,0.77226,0.77231,0.77228,0.77230,0.77227,0.77231,0.77229,
0.77229,0.77232,0.77228,0.77231,0.77234,0.77228,0.77232,0.77227,0.77230,0.77228,
0.77231,0.77228,0.77233,0.77229,0.77235,0.77228,0.77230,0.77226,0.77232,0.77228,
0.77227,0.77225,0.77229,0.77226,0.77228,0.77224,0.77226,0.77230,0.77228,0.77232,
0.77228,0.77230,0.77226,0.77224,0.77221,0.77226,0.77220,0.77225,0.77222,0.77226,
0.77221,0.77230,0.77236];
const orf1aErrsOdd = [
1e-5,1e-5,5e-5,5e-5,5e-5,1e-5,1e-5,2e-4,1e-5,1e-4,
1.5e-4,1e-4,1.2e-4,1e-4,1e-4,1.2e-4,1e-4,1e-4,1e-4,1e-4,
1e-4,8e-5,1e-4,1e-4,1e-4,5e-5,8e-5,5e-5,5e-5,5e-5,
5e-5,3e-5,3e-5,2e-5,2e-5,2e-5,2e-5,1e-5,1e-5,1e-5,
1e-5,1e-5,1e-5,1e-5,1e-5,1e-5,1e-5,1e-5,1e-5,1e-5,
2e-5,2e-5,2e-5,2e-5,2e-5,2e-5,2e-5,2e-5,2e-5,2e-5,
2e-5,2e-5,2e-5,2e-5,2e-5,2e-5,2e-5,2e-5,2e-5,2e-5,
2e-5,2e-5,2e-5,2e-5,2e-5,2e-5,2e-5,2e-5,2e-5,2e-5,
2e-5,2e-5,2e-5,2e-5,2e-5,2e-5,2e-5,2e-5,2e-5,2e-5,
2e-5,2e-5,2e-5,2e-5,2e-5,2e-5,2e-5,2e-5,2e-5,2e-5,
2e-5,2e-5,2e-5,2e-5,2e-5,2e-5,2e-5,2e-5,2e-5,2e-5,
2e-5,2e-5,2e-5,2e-5,2e-5,2e-5,2e-5,2e-5,2e-5,2e-5,
2e-5,2e-5,2e-5,2e-5,2e-5,2e-5,2e-5,2e-5,2e-5,2e-5,
2e-5,2e-5,2e-5,2e-5,2e-5,2e-5,2e-5,2e-5,2e-5,2e-5,
2e-5,2e-5,2e-5,2e-5,2e-5,2e-5,2e-5,2e-5,2e-5,2e-5,
2e-5,2e-5,2e-5,2e-5,2e-5,2e-5,2e-5,2e-5,2e-5,2e-5,
2e-5,2e-5,2e-5,2e-5,2e-5,2e-5,2e-5,2e-5,2e-5,2e-5,
2e-5,2e-5,2e-5,2e-5,2e-5,2e-5,2e-5,2e-5,2e-5,2e-5,
2e-5,2e-5,2e-5,2e-5,2e-5,2e-5,2e-5,2e-5,2e-5,2e-5,
2e-5,2e-5,2e-5,2e-5,2e-5,2e-5,2e-5,3e-5,3e-5,5e-5,
1e-4,1e-4,1e-4];
const orf1aExtraDates = ["2020-01-28","2020-02-07","2020-07-31","2020-09-07","2020-10-27","2020-12-01","2021-01-23","2021-01-30"];
const orf1aExtraMeans = [0.77245,0.77250,0.77203,0.77223,0.77233,0.77225,0.77236,0.77231];
const orf1aExtraErrs  = [1e-4,1e-4,1e-5,2e-5,2e-5,2e-5,1e-4,1.5e-4];
const orf1aYTicks = [0.7721,0.7722,0.7723,0.7724,0.7725,0.7726,0.7727,0.7728];

const orf1bMeansEven = [
0.77080,0.77080,0.77080,0.77080,0.77080,0.77080,0.77080,0.76998,0.77075,0.77063,
0.77080,0.77083,0.77086,0.77068,0.77080,0.77076,0.77083,0.77087,0.77074,0.77078,
0.77072,0.77076,0.77070,0.77089,0.77080,0.77078,0.77075,0.77079,0.77070,0.77067,
0.77064,0.77068,0.77077,0.77066,0.77063,0.77068,0.77070,0.77069,0.77068,0.77070,
0.77069,0.77067,0.77068,0.77067,0.77068,0.77066,0.77067,0.77065,0.77067,0.77066,
0.77065,0.77066,0.77064,0.77066,0.77065,0.77064,0.77065,0.77063,0.77064,0.77063,
0.77062,0.77064,0.77062,0.77063,0.77061,0.77062,0.77060,0.77062,0.77061,0.77060,
0.77062,0.77060,0.77059,0.77061,0.77058,0.77060,0.77057,0.77061,0.77067,0.77058,
0.77059,0.77056,0.77060,0.77058,0.77061,0.77080,0.77066,0.77063,0.77061,0.77058,
0.77062,0.77057,0.77055,0.77056,0.77053,0.77054,0.77052,0.77053,0.77050,0.77049,
0.77045,0.77050,0.77048,0.77049,0.77052,0.77054,0.77052,0.77053,0.77055,0.77052,
0.77057,0.77058,0.77060,0.77059,0.77061,0.77060,0.77059,0.77065,0.77057,0.77056,
0.77058,0.77043,0.77056,0.77058,0.77057,0.77060,0.77059,0.77061,0.77062,0.77063,
0.77060,0.77044,0.77065,0.77067,0.77066,0.77069,0.77058,0.77068,0.77062,0.77057,
0.77053,0.77060,0.77058,0.77055,0.77060,0.77052,0.77057,0.77054,0.77059,0.77064,
0.77066,0.77069,0.77062,0.77063,0.77055,0.77060,0.77070,0.77071,0.77068,0.77074,
0.77067,0.77055,0.77066,0.77060,0.77053,0.77065,0.77056,0.77052,0.77047,0.77054,
0.77050,0.77066,0.77046,0.77053,0.77048,0.77074,0.77052,0.77050,0.77052,0.77070,
0.77046,0.77048,0.77044,0.77047,0.77042,0.77052,0.77070,0.77039,0.77037,0.77033,
0.77063,0.77030,0.77037,0.77058,0.77033,0.77030,0.77060,0.77027,0.77023,0.77039,
0.77019,0.76990,0.77010,0.76987];
const orf1bErrsEven = [
1e-5,1e-5,1e-5,1e-5,1e-5,1e-5,1e-5,1e-5,1e-4,1.5e-4,
2e-5,3e-5,1.5e-4,3e-5,5e-5,3e-5,5e-5,5e-5,3e-5,5e-5,
3e-5,5e-5,3e-5,1.5e-4,3e-5,3e-5,3e-5,3e-5,3e-5,3e-5,
3e-5,5e-5,5e-5,3e-5,3e-5,2e-5,2e-5,2e-5,2e-5,2e-5,
2e-5,2e-5,2e-5,2e-5,2e-5,2e-5,2e-5,2e-5,2e-5,2e-5,
2e-5,2e-5,2e-5,2e-5,2e-5,2e-5,2e-5,2e-5,2e-5,2e-5,
2e-5,2e-5,2e-5,2e-5,2e-5,2e-5,2e-5,2e-5,2e-5,2e-5,
2e-5,2e-5,2e-5,2e-5,2e-5,2e-5,2e-5,2e-5,2e-5,2e-5,
2e-5,2e-5,2e-5,2e-5,2e-5,2e-5,2e-5,2e-5,2e-5,2e-5,
2e-5,2e-5,2e-5,2e-5,2e-5,2e-5,2e-5,2e-5,2e-5,2e-5,
2e-5,2e-5,2e-5,2e-5,2e-5,2e-5,2e-5,2e-5,2e-5,2e-5,
2e-5,2e-5,2e-5,2e-5,2e-5,2e-5,2e-5,2e-5,2e-5,2e-5,
2e-5,3e-5,2e-5,2e-5,2e-5,2e-5,2e-5,2e-5,2e-5,2e-5,
2e-5,4e-5,2e-5,2e-5,2e-5,2e-5,2e-5,2e-5,2e-5,2e-5,
2e-5,2e-5,2e-5,2e-5,2e-5,2e-5,2e-5,2e-5,2e-5,2e-5,
2e-5,2e-5,2e-5,2e-5,2e-5,2e-5,2e-5,2e-5,2e-5,2e-5,
2e-5,2e-5,2e-5,2e-5,2e-5,2e-5,2e-5,2e-5,2e-5,2e-5,
2e-5,2e-5,2e-5,2e-5,2e-5,2e-5,2e-5,2e-5,2e-5,2e-5,
2e-5,2e-5,2e-5,2e-5,2e-5,2e-5,2e-5,2e-5,2e-5,2e-5,
2e-5,2e-5,2e-5,2e-5,2e-5,2e-5,2e-5,2e-5,2e-5,2e-5,
2e-5,4e-5,3e-5,1e-5];
const orf1bMeansOdd = [
0.77080,0.77080,0.77080,0.77080,0.77080,0.77080,0.77079,0.77080,0.77079,0.77083,
0.77080,0.77078,0.77072,0.77082,0.77078,0.77072,0.77080,0.77076,0.77082,0.77073,
0.77078,0.77074,0.77080,0.77077,0.77072,0.77074,0.77080,0.77070,0.77064,0.77065,
0.77069,0.77066,0.77064,0.77070,0.77068,0.77069,0.77071,0.77068,0.77069,0.77068,
0.77068,0.77066,0.77067,0.77066,0.77067,0.77065,0.77066,0.77066,0.77065,0.77067,
0.77064,0.77065,0.77065,0.77063,0.77064,0.77064,0.77062,0.77063,0.77064,0.77062,
0.77063,0.77061,0.77063,0.77061,0.77062,0.77060,0.77061,0.77062,0.77059,0.77061,
0.77060,0.77061,0.77058,0.77060,0.77059,0.77061,0.77058,0.77060,0.77057,0.77060,
0.77057,0.77059,0.77058,0.77062,0.77060,0.77066,0.77062,0.77064,0.77060,0.77056,
0.77059,0.77055,0.77057,0.77054,0.77055,0.77052,0.77051,0.77050,0.77048,0.77051,
0.77047,0.77048,0.77050,0.77051,0.77053,0.77051,0.77054,0.77050,0.77053,0.77056,
0.77056,0.77059,0.77058,0.77060,0.77062,0.77061,0.77058,0.77060,0.77058,0.77057,
0.77055,0.77058,0.77060,0.77057,0.77059,0.77061,0.77058,0.77060,0.77065,0.77061,
0.77062,0.77063,0.77066,0.77068,0.77062,0.77065,0.77070,0.77064,0.77060,0.77055,
0.77058,0.77056,0.77061,0.77057,0.77054,0.77058,0.77055,0.77061,0.77062,0.77066,
0.77068,0.77064,0.77066,0.77060,0.77062,0.77066,0.77069,0.77070,0.77072,0.77066,
0.77060,0.77064,0.77057,0.77062,0.77058,0.77055,0.77060,0.77050,0.77056,0.77049,
0.77054,0.77048,0.77056,0.77050,0.77058,0.77054,0.77048,0.77053,0.77050,0.77048,
0.77050,0.77045,0.77049,0.77044,0.77046,0.77043,0.77040,0.77038,0.77035,0.77031,
0.77035,0.77033,0.77031,0.77036,0.77031,0.77029,0.77028,0.77030,0.77025,0.77022,
0.77020,0.77016,0.77015];
const orf1bErrsOdd = [
1e-5,1e-5,1e-5,1e-5,1e-5,1e-5,5e-5,1e-5,5e-5,5e-5,
5e-5,3e-5,5e-5,5e-5,3e-5,5e-5,5e-5,3e-5,5e-5,3e-5,
3e-5,5e-5,3e-5,5e-5,3e-5,3e-5,5e-5,3e-5,3e-5,3e-5,
3e-5,3e-5,2e-5,2e-5,2e-5,2e-5,2e-5,2e-5,2e-5,2e-5,
2e-5,2e-5,2e-5,2e-5,2e-5,2e-5,2e-5,2e-5,2e-5,2e-5,
2e-5,2e-5,2e-5,2e-5,2e-5,2e-5,2e-5,2e-5,2e-5,2e-5,
2e-5,2e-5,2e-5,2e-5,2e-5,2e-5,2e-5,2e-5,2e-5,2e-5,
2e-5,2e-5,2e-5,2e-5,2e-5,2e-5,2e-5,2e-5,2e-5,2e-5,
2e-5,2e-5,2e-5,2e-5,2e-5,2e-5,2e-5,2e-5,2e-5,2e-5,
2e-5,2e-5,2e-5,2e-5,2e-5,2e-5,2e-5,2e-5,2e-5,2e-5,
2e-5,2e-5,2e-5,2e-5,2e-5,2e-5,2e-5,2e-5,2e-5,2e-5,
2e-5,2e-5,2e-5,2e-5,2e-5,2e-5,2e-5,2e-5,2e-5,2e-5,
2e-5,2e-5,2e-5,2e-5,2e-5,2e-5,2e-5,2e-5,2e-5,2e-5,
2e-5,2e-5,2e-5,2e-5,2e-5,2e-5,2e-5,2e-5,2e-5,2e-5,
2e-5,2e-5,2e-5,2e-5,2e-5,2e-5,2e-5,2e-5,2e-5,2e-5,
2e-5,2e-5,2e-5,2e-5,2e-5,2e-5,2e-5,2e-5,2e-5,2e-5,
2e-5,2e-5,2e-5,2e-5,2e-5,2e-5,2e-5,2e-5,2e-5,2e-5,
2e-5,2e-5,2e-5,2e-5,2e-5,2e-5,2e-5,2e-5,2e-5,2e-5,
2e-5,2e-5,2e-5,2e-5,2e-5,2e-5,2e-5,2e-5,2e-5,2e-5,
2e-5,2e-5,2e-5,2e-5,2e-5,2e-5,2e-5,2e-5,2e-5,2e-5,
3e-5,3e-5,3e-5];
const orf1bExtraDates = ["2020-01-12","2020-12-11","2020-12-25","2021-01-28","2021-01-31","2021-02-01"];
const orf1bExtraMeans = [0.77073,0.77045,0.77048,0.77027,0.77037,0.77017];
const orf1bExtraErrs  = [5e-5,2e-5,2e-5,1e-4,2e-4,3e-5];
const orf1bYTicks = [0.7695,0.7700,0.7705,0.7710,0.7715];

// ---------------- LAYOUT (pixels / axis limits, not data) ----------------
const DAY = 864e5;
const JAN1 = Date.UTC(2020,0,1);
const panels = [
 {title:"Spike", series:[[spikeMeansEven,spikeErrsEven,firstEvenDate],[spikeMeansOdd,spikeErrsOdd,firstOddDate]],
  exD:spikeExtraDates, exM:spikeExtraMeans, exE:spikeExtraErrs,
  yTicks:spikeYTicks, fmt:".4f", box:[72.7,32.3,561.7,269.3], xlim:[-16.4,413.9], ylim:[0.76293,0.76561]},
 {title:"Nucleocapsid", series:[[nucleoMeansEven,nucleoErrsEven,firstEvenDate],[nucleoMeansOdd,nucleoErrsOdd,firstOddDate]],
  exD:nucleoExtraDates, exM:nucleoExtraMeans, exE:nucleoExtraErrs,
  yTicks:nucleoYTicks, fmt:".3f", box:[648.6,30.7,1137.6,267.3], xlim:[-25.3,428.6], ylim:[0.84385,0.85166]},
 {title:"Membrane", series:[[membraneMeansEven,membraneErrsEven,firstEvenDate],[membraneMeansOdd,membraneErrsOdd,firstOddDate]],
  exD:membraneExtraDates, exM:membraneExtraMeans, exE:membraneExtraErrs,
  yTicks:membraneYTicks, fmt:".4f", box:[72.7,322.7,561.7,559.3], xlim:[-14.3,411.8], ylim:[0.798826,0.802087]},
 {title:"RdRp", series:[[rdrpMeansEven,rdrpErrsEven,firstEvenDate],[rdrpMeansOdd,rdrpErrsOdd,firstOddDate]],
  exD:rdrpExtraDates, exM:rdrpExtraMeans, exE:rdrpExtraErrs,
  yTicks:rdrpYTicks, fmt:".4f", box:[648.6,321.7,1137.6,557.3], xlim:[-10.3,410.0], ylim:[0.76918,0.772606]},
 {title:"ORF1a", series:[[orf1aMeansEven,orf1aErrsEven,firstEvenDate],[orf1aMeansOdd,orf1aErrsOdd,firstOddDate]],
  exD:orf1aExtraDates, exM:orf1aExtraMeans, exE:orf1aExtraErrs,
  yTicks:orf1aYTicks, fmt:".4f", box:[72.7,614.3,561.7,851], xlim:[-16.2,418.2], ylim:[0.772026,0.77281]},
 {title:"ORF1b", series:[[orf1bMeansEven,orf1bErrsEven,firstEvenDate],[orf1bMeansOdd,orf1bErrsOdd,firstOddDate]],
  exD:orf1bExtraDates, exM:orf1bExtraMeans, exE:orf1bExtraErrs,
  yTicks:orf1bYTicks, fmt:".4f", box:[648.6,619.3,1137.6,856], xlim:[-10.3,408.3], ylim:[0.769311,0.771544]}
];

const BLUE = "#0072BD";
const AXC = "#7a7a7a";
const TXT = "#262626";
const parseDate = d3.utcParse("%Y-%m-%d");
const svg = d3.select("#chart");
svg.append("rect").attr("width",1134).attr("height",877).attr("fill","#fff");

panels.forEach((p, pi) => {
  const [L,T,R,B] = p.box;
  const x = d3.scaleUtc().domain([new Date(JAN1+p.xlim[0]*DAY), new Date(JAN1+p.xlim[1]*DAY)]).range([L,R]);
  const y = d3.scaleLinear().domain(p.ylim).range([B,T]);
  const g = svg.append("g");
  const xt = xTickDates.map(parseDate);

  // grid
  g.append("g").selectAll("line").data(xt).join("line")
    .attr("x1",d=>x(d)).attr("x2",d=>x(d)).attr("y1",T).attr("y2",B)
    .attr("stroke","#e4e4e4").attr("stroke-width",1);
  g.append("g").selectAll("line").data(p.yTicks).join("line")
    .attr("x1",L).attr("x2",R).attr("y1",d=>y(d)).attr("y2",d=>y(d))
    .attr("stroke","#e4e4e4").attr("stroke-width",1);

  // data
  const pts = [];
  p.series.forEach(([means, errs, start]) => {
    const t0 = parseDate(start).getTime();
    means.forEach((m,i) => { if (m != null) pts.push({date:new Date(t0+i*stepDays*DAY), m, e:(errs[i] ?? 0)}); });
  });
  p.exD.forEach((d,i) => pts.push({date:parseDate(d), m:p.exM[i], e:p.exE[i]}));
  const cid = "clip"+pi;
  svg.append("clipPath").attr("id",cid).append("rect").attr("x",L).attr("y",T).attr("width",R-L).attr("height",B-T);
  const dg = g.append("g").attr("clip-path",`url(#${cid})`)
     .attr("stroke",BLUE).attr("stroke-opacity",0.55).attr("stroke-width",0.8).attr("fill","none");
  const eb = dg.selectAll("g.pt").data(pts).join("g").attr("class","pt");
  eb.append("line").attr("x1",d=>x(d.date)).attr("x2",d=>x(d.date))
    .attr("y1",d=>y(d.m-d.e)).attr("y2",d=>y(d.m+d.e));
  eb.append("line").attr("x1",d=>x(d.date)-3).attr("x2",d=>x(d.date)+3)
    .attr("y1",d=>y(d.m-d.e)).attr("y2",d=>y(d.m-d.e));
  eb.append("line").attr("x1",d=>x(d.date)-3).attr("x2",d=>x(d.date)+3)
    .attr("y1",d=>y(d.m+d.e)).attr("y2",d=>y(d.m+d.e));
  eb.append("circle").attr("cx",d=>x(d.date)).attr("cy",d=>y(d.m)).attr("r",3);

  // axes (ticks inside, box on)
  const styleAxis = sel => {
    sel.select(".domain").remove();
    sel.selectAll(".tick line").attr("stroke",AXC);
    sel.selectAll("text").attr("fill",TXT).style("font-size","12.5px")
      .style("font-family","'Liberation Sans',Arial,Helvetica,sans-serif");
  };
  g.append("g").attr("transform",`translate(0,${B})`)
    .call(d3.axisBottom(x).tickValues(xt).tickFormat(d3.utcFormat("%Y-%m-%d")).tickSizeInner(-4.5).tickSizeOuter(0).tickPadding(8))
    .call(styleAxis);
  g.append("g").attr("transform",`translate(0,${T})`)
    .call(d3.axisTop(x).tickValues(xt).tickFormat(()=>"").tickSizeInner(-4.5).tickSizeOuter(0))
    .call(styleAxis);
  const yl = g.append("g").attr("transform",`translate(${L},0)`)
    .call(d3.axisLeft(y).tickValues(p.yTicks).tickFormat(d3.format(p.fmt)).tickSizeInner(-4.5).tickSizeOuter(0).tickPadding(5.5))
    .call(styleAxis);
  g.append("g").attr("transform",`translate(${R},0)`)
    .call(d3.axisRight(y).tickValues(p.yTicks).tickFormat(()=>"").tickSizeInner(-4.5).tickSizeOuter(0))
    .call(styleAxis);
  g.append("rect").attr("x",L).attr("y",T).attr("width",R-L).attr("height",B-T)
    .attr("fill","none").attr("stroke",AXC).attr("stroke-width",1);

  // y label
  let maxW = 0;
  yl.selectAll("text").each(function(){ maxW = Math.max(maxW, this.getComputedTextLength()); });
  const lx = L - 5.5 - maxW - 4.5;
  g.append("text").attr("transform",`translate(${lx},${(T+B)/2}) rotate(-90)`)
    .attr("text-anchor","middle").attr("fill",TXT).style("font-size","14px").text("SiD");

  // title
  g.append("text").attr("x",(L+R)/2).attr("y",T-7.5).attr("text-anchor","middle")
    .attr("fill","#000").style("font-size","19px").style("font-weight","bold").text(p.title);

  // legend
  const lw = 91, lh = 16.5, lR = R - 6.5, lT = T + 6.8, lL = lR - lw, cy = lT + lh/2;
  const lg = g.append("g");
  lg.append("rect").attr("x",lL).attr("y",lT).attr("width",lw).attr("height",lh)
    .attr("fill","#fff").attr("stroke",AXC).attr("stroke-width",1);
  const ic = lg.append("g").attr("stroke",BLUE).attr("stroke-opacity",0.7).attr("stroke-width",0.9).attr("fill","none");
  const ix = lL + 12;
  ic.append("line").attr("x1",ix).attr("x2",ix).attr("y1",cy-6).attr("y2",cy+6);
  ic.append("line").attr("x1",ix-2.5).attr("x2",ix+2.5).attr("y1",cy-6).attr("y2",cy-6);
  ic.append("line").attr("x1",ix-2.5).attr("x2",ix+2.5).attr("y1",cy+6).attr("y2",cy+6);
  ic.append("circle").attr("cx",ix).attr("cy",cy).attr("r",3);
  lg.append("text").attr("x",lL+24).attr("y",cy+4).attr("fill",TXT).style("font-size","11.5px").text("Daily Means");
});
</script>
</body></html>
